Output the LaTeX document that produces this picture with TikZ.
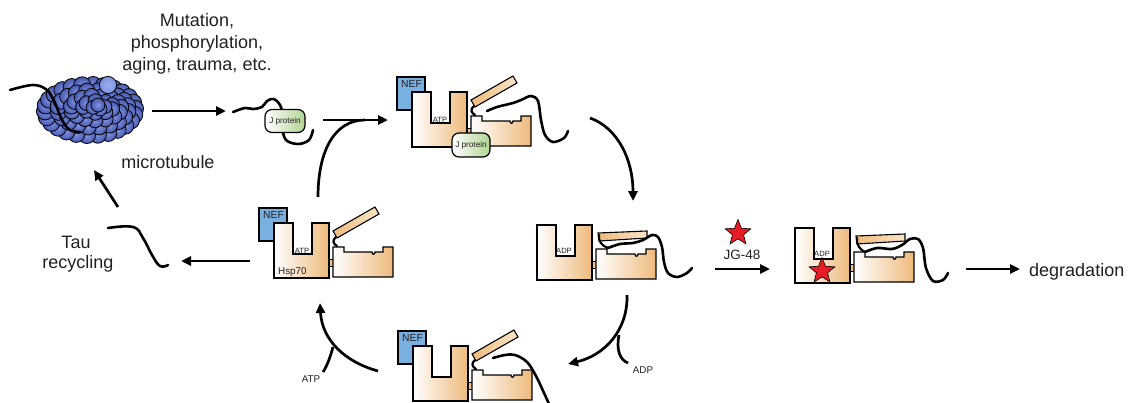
\documentclass[tikz,border=0pt]{standalone}
\usepackage{fontspec}
\setmainfont{Liberation Sans}
\usetikzlibrary{arrows.meta,shapes.geometric}

\definecolor{ink}{RGB}{35,31,32}
\definecolor{tan}{RGB}{238,186,124}
\definecolor{tanlight}{RGB}{250,230,200}
\definecolor{nefblue}{RGB}{122,176,224}
\definecolor{jgreen}{RGB}{176,212,146}
\definecolor{tubin}{RGB}{128,148,226}
\definecolor{tubout}{RGB}{72,88,176}
\definecolor{tubhi}{RGB}{112,140,228}
\definecolor{starred}{RGB}{232,28,36}

\tikzset{
  domainbox/.style={draw=black, line width=1.3pt, left color=white, right color=tan},
  linkerbox/.style={draw=black, line width=0.9pt, fill=tan!85},
  nefbox/.style={draw=black, line width=1.2pt, fill=nefblue},
  lidbar/.style={draw=black, line width=1.1pt, left color=tan, right color=tanlight},
  jbox/.style={draw=black, line width=1.2pt, rounded corners=7pt, left color=white,
    right color=jgreen, minimum width=40pt, minimum height=23pt, inner sep=0pt,
    font=\fontsize{8.2}{9}\selectfont, text=ink},
  peptide/.style={draw=black, line width=2.6pt, line cap=round, line join=round},
  hinge/.style={draw=black, line width=2.2pt, line cap=round},
  flow/.style={draw=black, line width=2.7pt, -{Triangle[length=10pt,width=9pt]}},
  flowplain/.style={draw=black, line width=2.7pt},
  bigtext/.style={font=\fontsize{18}{22}\selectfont, text=ink, inner sep=0pt},
  midtext/.style={font=\fontsize{13.5}{16}\selectfont, text=ink, inner sep=0pt},
  neftext/.style={font=\fontsize{10.3}{12}\selectfont, text=ink, inner sep=0pt},
  labeltext/.style={font=\fontsize{9.8}{12}\selectfont, text=ink, inner sep=0pt},
  tinytext/.style={font=\fontsize{7.6}{9}\selectfont, text=ink, inner sep=0pt},
  inhibitor/.style={star, star points=5, star point ratio=2.3, minimum size=27pt,
    inner sep=0pt, fill=starred, draw=black, line width=0.6pt},
  tubulin/.style={inner color=tubin, outer color=tubout, draw=black, line width=0.8pt},
}

% nucleotide-binding domain, linker and substrate-binding domain
\newcommand{\hspbody}{%
  \draw[linkerbox] (54,36) rectangle (60,43);
  \draw[domainbox] (0,0) -- (19,0) -- (19,31) -- (38,31) -- (38,0) -- (55,0)
     -- (55,55) -- (0,55) -- cycle;
  \draw[domainbox] (59,54) -- (59,24) -- (70,24) -- (70,29) -- (98,29)
     .. controls (98,32) and (101,32) .. (101,29) -- (109,29) -- (109,24)
     -- (119,24) -- (119,54) -- cycle;
}
% nucleotide exchange factor behind the NBD
\newcommand{\hspnef}[1]{%
  \draw[nefbox] (-15,-15) rectangle (13,18);
  \node[neftext, anchor=base west] (#1) at (-11,-5) {NEF};
}
% open and closed lid of the substrate-binding domain
\newcommand{\lidopen}{%
  \draw[lidbar] (59,8) -- (101,-16) -- (105,-9) -- (63,15) -- cycle;
  \draw[hinge] (62,14) .. controls (58,17) and (59,21) .. (63,23);
}
\newcommand{\lidclosed}{%
  \draw[lidbar] (61,8) -- (110,6) -- (110,13) -- (62,16) -- cycle;
}

\begin{document}
\begin{tikzpicture}[x=1pt, y=-1pt]
\useasboundingbox (0,0) rectangle (1128,402);

% ---------------- microtubule ----------------
\foreach \n/\a/\b/\cx/\cy/\r in {26/45/25/90/110/8.6, 20/35/18/93/109/8.2,
    15/25/12/96/108/7.8, 9/15/6/98/107/7.4, 4/6/2/99/107/7} {
  \foreach \i in {1,...,\n} {
    \pgfmathsetmacro\t{100-360*\i/\n}
    \shadedraw[tubulin] ({\cx+\a*cos(\t)},{\cy-\b*sin(\t)}) circle[radius=\r pt];
  }
}
\shadedraw[inner color=tubhi!70!white, outer color=tubin, draw=black, line width=0.8pt]
  (108,85) circle[radius=8.6pt];
\draw[peptide] plot[smooth, tension=0.6] coordinates
  {(10,90) (33,85) (47,90) (55,103) (62,120) (70,130) (80,132)};

\node[bigtext, anchor=base] (mut1) at (197,26) {Mutation,};
\node[bigtext, anchor=base] (mut2) at (197,48) {phosphorylation,};
\node[bigtext, anchor=base] (mut3) at (197,70) {aging, trauma, etc.};
\node[bigtext, anchor=base] (mtlabel) at (168,168) {microtubule};

% ---------------- released tau ----------------
\node[bigtext, anchor=base] (tau1) at (76,248) {Tau};
\node[bigtext, anchor=base] (tau2) at (78,268) {recycling};
\draw[peptide] plot[smooth, tension=0.7] coordinates
  {(108,228) (133,227) (143,238) (152,255) (160,266) (168,265)};

% ---------------- tau bound to J protein ----------------
\draw[peptide] plot[smooth, tension=0.6] coordinates
  {(233,112) (245,108) (253,109) (262,107) (267,101) (274,99) (280,105) (283,114)};
\draw[peptide] plot[smooth, tension=0.6] coordinates
  {(282,128) (286,140) (298,144) (309,140) (313,130)};
\node[jbox] (jfree) at (285,121) {J protein};

% ---------------- Hsp70 / NEF, ATP state ----------------
\begin{scope}[shift={(274,223)}]
  \hspnef{nefA}
  \hspbody
  \lidopen
  \node[tinytext, anchor=base] (atpA) at (28,30) {ATP};
  \node[labeltext, anchor=base west] (hspA) at (4,51) {Hsp70};
\end{scope}

% ---------------- ternary complex with J protein ----------------
\begin{scope}[shift={(412,92)}]
  \hspnef{nefT}
  \hspbody
  \lidopen
  \node[tinytext, anchor=base] (atpT) at (28,30) {ATP};
\end{scope}
\draw[peptide] plot[smooth, tension=0.55] coordinates
  {(487,111) (497,107) (513,103) (521,100) (531,96) (538,101) (541,120)
   (545,135) (553,142) (564,138) (568,131)};
\node[jbox, minimum width=38pt, minimum height=24pt] (jtop) at (471,145) {J protein};

% ---------------- ADP state, lid closed ----------------
\begin{scope}[shift={(537,225)}]
  \hspbody
  \lidclosed
  \node[tinytext, anchor=base] (adpC) at (27,28) {ADP};
\end{scope}
\draw[hinge] (599,235) .. controls (598,241) and (602,246) .. (608,248);
\draw[peptide] plot[smooth, tension=0.55] coordinates
  {(608,248) (620,244) (633,243) (643,240) (652,235) (658,237) (662,247)
   (664,262) (668,273) (677,277) (687,273) (692,268)};

% ---------------- ADP state with bound JG-48 ----------------
\begin{scope}[shift={(795,228)}]
  \hspbody
  \lidclosed
  \node[tinytext, anchor=base] (adpJ) at (27,28) {ADP};
\end{scope}
\draw[hinge] (857,238) .. controls (856,244) and (860,250) .. (865,252);
\draw[peptide] plot[smooth, tension=0.55] coordinates
  {(865,252) (877,248) (892,249) (902,245) (910,239) (918,239) (923,248)
   (926,268) (933,281) (943,280) (948,273)};
\node[inhibitor] (starbound) at (822,271) {};

% ---------------- Hsp70 / NEF after nucleotide exchange ----------------
\begin{scope}[shift={(413,346)}]
  \hspnef{nefB}
  \hspbody
  \lidopen
\end{scope}
\draw[peptide] plot[smooth, tension=0.6] coordinates
  {(493,358) (505,355) (515,355) (527,362) (536,376) (544,393) (549,404)};

% ---------------- inhibitor and degradation ----------------
\node[inhibitor] (starfree) at (738,233) {};
\node[midtext, anchor=base] (jglabel) at (742,259) {JG-48};
\node[bigtext, anchor=base west] (deglabel) at (1029,276) {degradation};
\node[labeltext, anchor=base] (atpin) at (311,382) {ATP};
\node[labeltext, anchor=base] (adpout) at (643,373) {ADP};

% ---------------- arrows ----------------
\coordinate (mtOut) at (152,111);  \coordinate (jIn) at (226,111);
\coordinate (cplxS) at (323,120);  \coordinate (cplxE) at (388,120);
\coordinate (upS) at (318,197);    \coordinate (upE) at (365,120);
\coordinate (hydS) at (590,118);   \coordinate (hydE) at (633,201);
\coordinate (excS) at (627,295);   \coordinate (excE) at (568,364);
\coordinate (adpS) at (619,335);   \coordinate (adpE) at (628,363);
\coordinate (atpS) at (378,371);   \coordinate (atpE) at (320,303);
\coordinate (atpbS) at (333,347);  \coordinate (atpbE) at (323,372);
\coordinate (relS) at (250,261);   \coordinate (relE) at (181,261);
\coordinate (recS) at (118,207);   \coordinate (recE) at (94,170);
\coordinate (inhS) at (715,269);   \coordinate (inhE) at (770,269);
\coordinate (degS) at (966,269);   \coordinate (degE) at (1020,269);

\draw[flow] (mtOut) -- (jIn);
\draw[flowplain] (upS) .. controls (318,150) and (335,120) .. (upE);
\draw[flow] (cplxS) -- (cplxE);
\draw[flow] (hydS) .. controls (618,128) and (633,160) .. (hydE);
\draw[flow] (excS) .. controls (628,330) and (605,355) .. (excE);
\draw[flowplain] (adpS) .. controls (616,350) and (620,360) .. (adpE);
\draw[flow] (atpS) .. controls (345,362) and (322,340) .. (atpE);
\draw[flowplain] (atpbS) .. controls (330,358) and (327,366) .. (atpbE);
\draw[flow] (relS) -- (relE);
\draw[flow] (recS) -- (recE);
\draw[flow] (inhS) -- (inhE);
\draw[flow] (degS) -- (degE);
\end{tikzpicture}
\end{document}
